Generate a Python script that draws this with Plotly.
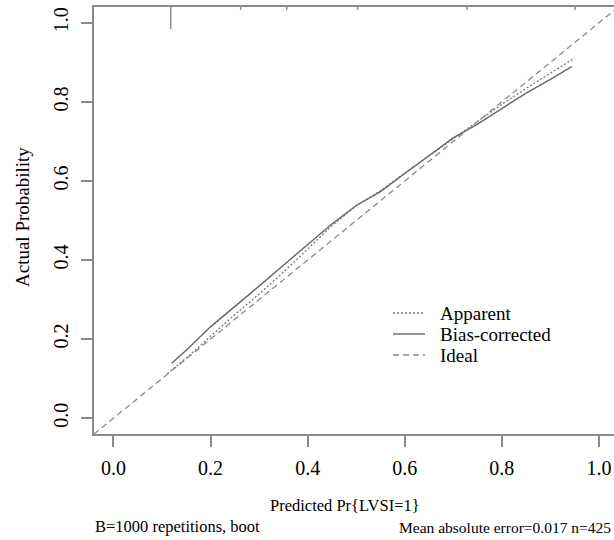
import plotly.graph_objects as go

# ---- data ----
apparent_x = [0.111, 0.15, 0.2, 0.25, 0.3, 0.35, 0.4, 0.45, 0.5, 0.55, 0.6, 0.65, 0.7, 0.75, 0.8, 0.85, 0.9, 0.95]
apparent_y = [0.113, 0.152, 0.207, 0.262, 0.314, 0.369, 0.428, 0.487, 0.537, 0.575, 0.620, 0.664, 0.708, 0.751, 0.794, 0.834, 0.872, 0.911]

bias_x = [0.120, 0.15, 0.2, 0.25, 0.3, 0.35, 0.4, 0.45, 0.5, 0.55, 0.6, 0.65, 0.7, 0.75, 0.8, 0.85, 0.9, 0.944]
bias_y = [0.139, 0.172, 0.231, 0.282, 0.334, 0.387, 0.439, 0.491, 0.538, 0.573, 0.619, 0.665, 0.709, 0.744, 0.783, 0.822, 0.857, 0.889]

ideal_x = [-0.04, 1.04]
ideal_y = [-0.04, 1.04]

# distribution of predicted values (rug at top), relative heights
rug_x = [0.118, 0.262, 0.357, 0.503, 0.728, 0.951]
rug_h = [1.0, 0.13, 0.13, 0.13, 0.13, 0.13]

x_ticks = [0.0, 0.2, 0.4, 0.6, 0.8, 1.0]
x_ticklabels = ["0.0", "0.2", "0.4", "0.6", "0.8", "1.0"]
y_ticks = [0.0, 0.2, 0.4, 0.6, 0.8, 1.0]
y_ticklabels = ["0.0", "0.2", "0.4", "0.6", "0.8", "1.0"]

legend_names = ["Apparent", "Bias-corrected", "Ideal"]

FONT = "Liberation Serif, Times New Roman, serif"
AXC = "#8a8a8a"
STYLES = [
    dict(color="#777777", width=1.3, dash="2px,2px"),
    dict(color="#666666", width=1.4),
    dict(color="#8a8a8a", width=1.3, dash="6px,4px"),
]

YTOP = 1.04
RUG_MAX = 0.056
rx, ry = [], []
for xv, hv in zip(rug_x, rug_h):
    rx += [xv, xv, None]
    ry += [YTOP, YTOP - hv * RUG_MAX, None]

fig = go.Figure()
fig.add_trace(go.Scatter(x=apparent_x, y=apparent_y, mode="lines", name=legend_names[0],
                         line=STYLES[0], showlegend=False))
fig.add_trace(go.Scatter(x=bias_x, y=bias_y, mode="lines", name=legend_names[1],
                         line=STYLES[1], showlegend=False))
fig.add_trace(go.Scatter(x=ideal_x, y=ideal_y, mode="lines", name=legend_names[2],
                         line=STYLES[2], showlegend=False))
fig.add_trace(go.Scatter(x=rx, y=ry, mode="lines", showlegend=False, hoverinfo="skip",
                         line=dict(color="#8a8a8a", width=1.5)))

# plot area geometry (pixels) used to place legend/annotations
L, W, T, H = 94, 520, 7, 427


def px(xp):
    return (xp - L) / W


def py(yp):
    return (T + H - yp) / H


annotations = [
    dict(text="Predicted Pr{LVSI=1}", xref="paper", yref="paper",
         x=px(345), y=py(505), xanchor="center", yanchor="middle",
         showarrow=False, font=dict(family=FONT, size=16.5, color="black")),
    dict(text="Actual Probability", xref="paper", yref="paper",
         x=px(22), y=py(217), xanchor="center", yanchor="middle",
         textangle=-90, showarrow=False, font=dict(family=FONT, size=19, color="black")),
    dict(text="B=1000 repetitions, boot", xref="paper", yref="paper",
         x=px(93), y=py(526), xanchor="left", yanchor="middle",
         showarrow=False, font=dict(family=FONT, size=16.5, color="black")),
    dict(text="Mean absolute error=0.017 n=425", xref="paper", yref="paper",
         x=px(613), y=py(527), xanchor="right", yanchor="middle",
         showarrow=False, font=dict(family=FONT, size=15.5, color="black")),
]
shapes = []
legend_rows = [313, 334, 355]
for name, st, yr in zip(legend_names, STYLES, legend_rows):
    annotations.append(dict(text=name, xref="paper", yref="paper", x=px(438), y=py(yr),
                            xanchor="left", yanchor="middle", showarrow=False,
                            font=dict(family=FONT, size=19, color="black")))
    shapes.append(dict(type="line", xref="paper", yref="paper", x0=px(393), x1=px(425),
                       y0=py(yr), y1=py(yr), line=st))

fig.update_layout(
    width=614, height=540,
    margin=dict(l=L, r=0, t=T, b=540 - T - H),
    paper_bgcolor="white", plot_bgcolor="white",
    font=dict(family=FONT, color="black"),
    showlegend=False,
    xaxis=dict(range=[-0.04, 1.031], tickvals=x_ticks, ticktext=x_ticklabels,
               showgrid=False, zeroline=False, showline=True, linecolor=AXC, linewidth=1.5,
               mirror=True, ticks="outside", ticklen=11, tickcolor=AXC, tickwidth=1.5,
               ticklabelstandoff=4, tickfont=dict(family=FONT, size=20, color="black")),
    yaxis=dict(range=[-0.04, 1.04], tickvals=y_ticks, ticktext=y_ticklabels,
               showgrid=False, zeroline=False, showline=True, linecolor=AXC, linewidth=1.5,
               mirror=False, ticks="outside", ticklen=11, tickcolor=AXC, tickwidth=1.5,
               tickangle=-90, ticklabelstandoff=5,
               tickfont=dict(family=FONT, size=20, color="black")),
    annotations=annotations,
    shapes=shapes,
)

fig.write_html("out.html")
